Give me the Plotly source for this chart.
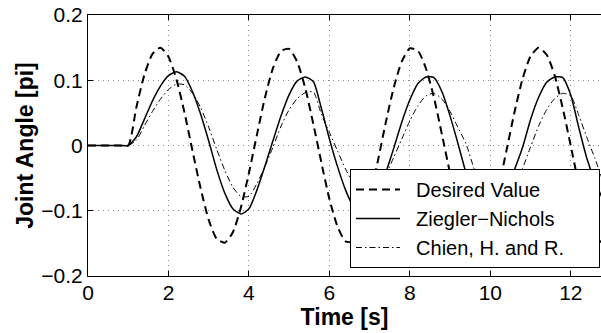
import plotly.graph_objects as go

# Time samples (s)
time_s = [round(0.2 * i, 1) for i in range(65)]

desired_value = [
    0, 0, 0, 0, 0, 0,
    0.058, 0.108, 0.140, 0.150, 0.136, 0.101, 0.050, -0.009, -0.066, -0.114,
    -0.143, -0.149, -0.133, -0.095, -0.042, 0.017, 0.074, 0.119, 0.145, 0.148,
    0.128, 0.088, 0.033, -0.026, -0.082, -0.124, -0.147, -0.147, -0.123, -0.080,
    -0.025, 0.035, 0.089, 0.129, 0.149, 0.145, 0.118, 0.073, 0.016, -0.043,
    -0.096, -0.133, -0.149, -0.142, -0.113, -0.065, -0.008, 0.051, 0.102, 0.137,
    0.150, 0.139, 0.107, 0.057, -0.001, -0.060, -0.108, -0.140, -0.150,
]

ziegler_nichols = [
    0, 0, 0, 0, 0, 0,
    0.013, 0.040, 0.068, 0.091, 0.107, 0.113, 0.106, 0.082, 0.048, 0.007,
    -0.037, -0.073, -0.097, -0.105, -0.097, -0.068, -0.031, 0.008, 0.046, 0.078,
    0.099, 0.105, 0.098, 0.057, 0.010, -0.032, -0.068, -0.094, -0.105, -0.101,
    -0.078, -0.042, -0.004, 0.036, 0.070, 0.095, 0.105, 0.104, 0.082, 0.045,
    0.002, -0.043, -0.078, -0.099, -0.105, -0.096, -0.070, -0.037, -0.003, 0.040,
    0.074, 0.097, 0.105, 0.104, 0.077, 0.027, -0.020, -0.055, -0.083,
]

chien_hr = [
    0, 0, 0, 0, 0, 0,
    0.008, 0.030, 0.052, 0.071, 0.086, 0.094, 0.093, 0.080, 0.058, 0.028,
    -0.006, -0.038, -0.064, -0.078, -0.078, -0.058, -0.032, -0.002, 0.030, 0.055,
    0.072, 0.081, 0.082, 0.048, 0.020, -0.008, -0.036, -0.059, -0.075, -0.080,
    -0.068, -0.045, -0.018, 0.010, 0.038, 0.061, 0.076, 0.080, 0.071, 0.052,
    0.027, 0.002, -0.036, -0.060, -0.076, -0.080, -0.078, -0.062, -0.035, -0.002,
    0.030, 0.055, 0.072, 0.080, 0.076, 0.046, 0.012, -0.020, -0.055,
]

series_names = ["Desired Value", "Ziegler\u2212Nichols", "Chien, H. and R."]
x_ticks = [0, 2, 4, 6, 8, 10, 12]
y_ticks = [-0.2, -0.1, 0, 0.1, 0.2]
y_tick_labels = ["\u22120.2", "\u22120.1", "0", "0.1", "0.2"]

FONT = "Liberation Sans, Arial, Helvetica, sans-serif"
NB = "\u00a0"

fig = go.Figure()
fig.add_trace(go.Scatter(x=time_s, y=desired_value, name=NB * 2 + series_names[0], mode="lines",
                         line=dict(color="black", width=2, dash="8px,5px", shape="spline", smoothing=0.6)))
fig.add_trace(go.Scatter(x=time_s, y=ziegler_nichols, name=NB * 2 + series_names[1] + NB * 7, mode="lines",
                         line=dict(color="black", width=1.5, shape="spline", smoothing=0.6)))
fig.add_trace(go.Scatter(x=time_s, y=chien_hr, name=NB * 2 + series_names[2], mode="lines",
                         line=dict(color="black", width=1, dash="6px,3px,1.5px,3px", shape="spline", smoothing=0.6)))

fig.update_layout(
    width=601, height=333,
    margin=dict(l=88, r=0, t=15, b=57),
    paper_bgcolor="white", plot_bgcolor="white",
    font=dict(family=FONT, color="black", size=21),
    showlegend=True,
    legend=dict(
        x=0.998, xanchor="right", y=0.41, yanchor="top",
        bgcolor="white", bordercolor="black", borderwidth=1,
        font=dict(family=FONT, size=20, color="black"),
        itemwidth=44,
    ),
    xaxis=dict(
        range=[0, 12.75], tickvals=x_ticks, ticktext=[str(v) for v in x_ticks],
        showgrid=True, gridcolor="#8a8a8a", gridwidth=1, griddash="1px,4px",
        showline=True, linecolor="black", linewidth=1, mirror="ticks",
        ticks="inside", ticklen=5, tickcolor="black",
        zeroline=False,
        title=dict(text=NB * 2 + "<b>Time [s]</b>", font=dict(family=FONT, size=23), standoff=0),
        tickfont=dict(size=21),
        ticklabelstandoff=-2,
    ),
    yaxis=dict(
        range=[-0.2, 0.2], tickvals=y_ticks, ticktext=y_tick_labels,
        showgrid=True, gridcolor="#8a8a8a", gridwidth=1, griddash="1px,4px",
        showline=True, linecolor="black", linewidth=1, mirror=False,
        ticks="inside", ticklen=5, tickcolor="black",
        zeroline=False,
        title=dict(text="<b>Joint Angle [pi]</b>", font=dict(family=FONT, size=23), standoff=1),
        tickfont=dict(size=21),
    ),
)

fig.write_html("out.html", config={"displayModeBar": False},
               post_script="document.body.style.margin='0';")
